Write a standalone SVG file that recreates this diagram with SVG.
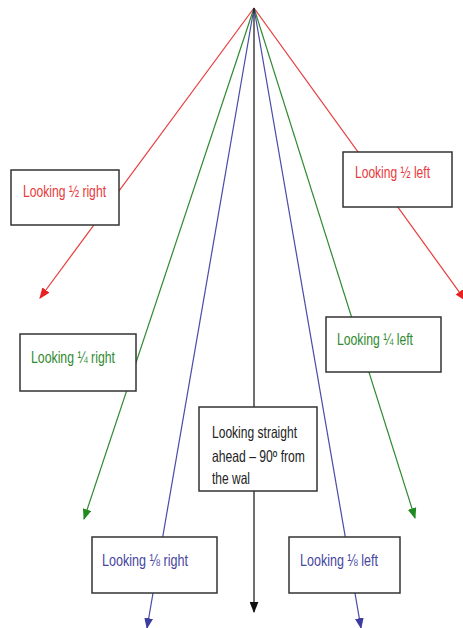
<svg xmlns="http://www.w3.org/2000/svg" width="463" height="628" viewBox="0 0 463 628">
<style>
.box{fill:#fff;stroke:#333;stroke-width:1.5}
.t{font-family:"Liberation Sans Narrow","Liberation Sans",Arial,sans-serif;font-size:16.5px}
.red{fill:#e8383c}.grn{fill:#2f8a2f}.blu{fill:#4646a0}.blk{fill:#222}
.ln{fill:none;stroke-width:1.2}
</style>
<defs>
<marker id="aR" viewBox="0 0 10 8" refX="9" refY="4" markerWidth="11" markerHeight="9" markerUnits="userSpaceOnUse" orient="auto"><path d="M0,0 L10,4 L0,8 z" fill="#e82020"/></marker>
<marker id="aG" viewBox="0 0 10 8" refX="9" refY="4" markerWidth="11" markerHeight="9" markerUnits="userSpaceOnUse" orient="auto"><path d="M0,0 L10,4 L0,8 z" fill="#1f8a1f"/></marker>
<marker id="aB" viewBox="0 0 10 8" refX="9" refY="4" markerWidth="11" markerHeight="9" markerUnits="userSpaceOnUse" orient="auto"><path d="M0,0 L10,4 L0,8 z" fill="#3c3ca0"/></marker>
<marker id="aK" viewBox="0 0 10 8" refX="9" refY="4" markerWidth="11" markerHeight="9" markerUnits="userSpaceOnUse" orient="auto"><path d="M0,0 L10,4 L0,8 z" fill="#111"/></marker>
</defs>
<g id="connectors">
<line class="ln" x1="254" y1="8" x2="40" y2="298" stroke="#e83a3a" marker-end="url(#aR)"/>
<line class="ln" x1="254" y1="8" x2="465" y2="300" stroke="#e83a3a" marker-end="url(#aR)"/>
<line class="ln" x1="254" y1="8" x2="84" y2="519" stroke="#2f8a2f" marker-end="url(#aG)"/>
<line class="ln" x1="254" y1="8" x2="415" y2="518" stroke="#2f8a2f" marker-end="url(#aG)"/>
<line class="ln" x1="254" y1="8" x2="147" y2="628" stroke="#4a4aa8" marker-end="url(#aB)"/>
<line class="ln" x1="254" y1="8" x2="361" y2="628" stroke="#4a4aa8" marker-end="url(#aB)"/>
<line class="ln" x1="254" y1="8" x2="254" y2="612" stroke="#111" marker-end="url(#aK)"/>
</g>
<g id="half-right"><rect class="box" x="11" y="170" width="108" height="55"/><text class="t red" x="23" y="197" textLength="83" lengthAdjust="spacingAndGlyphs">Looking ½ right</text></g>
<g id="half-left"><rect class="box" x="343" y="152" width="109" height="55"/><text class="t red" x="355" y="178" textLength="75" lengthAdjust="spacingAndGlyphs">Looking ½ left</text></g>
<g id="quarter-right"><rect class="box" x="20" y="334" width="116" height="57"/><text class="t grn" x="31" y="363" textLength="84" lengthAdjust="spacingAndGlyphs">Looking ¼ right</text></g>
<g id="quarter-left"><rect class="box" x="326" y="317" width="115" height="55"/><text class="t grn" x="337" y="345" textLength="76" lengthAdjust="spacingAndGlyphs">Looking ¼ left</text></g>
<g id="straight"><rect class="box" x="199" y="407" width="118" height="84"/>
<text class="t blk" x="212" y="438" textLength="85" lengthAdjust="spacingAndGlyphs">Looking straight</text>
<text class="t blk" x="212" y="462" textLength="93" lengthAdjust="spacingAndGlyphs">ahead – 90º from</text>
<text class="t blk" x="212" y="484" textLength="38" lengthAdjust="spacingAndGlyphs">the wal</text></g>
<g id="eighth-right"><rect class="box" x="92" y="537" width="125" height="56"/><text class="t blu" x="102" y="566" textLength="86" lengthAdjust="spacingAndGlyphs">Looking ⅛ right</text></g>
<g id="eighth-left"><rect class="box" x="289" y="537" width="111" height="56"/><text class="t blu" x="300" y="566" textLength="78" lengthAdjust="spacingAndGlyphs">Looking ⅛ left</text></g>
</svg>
